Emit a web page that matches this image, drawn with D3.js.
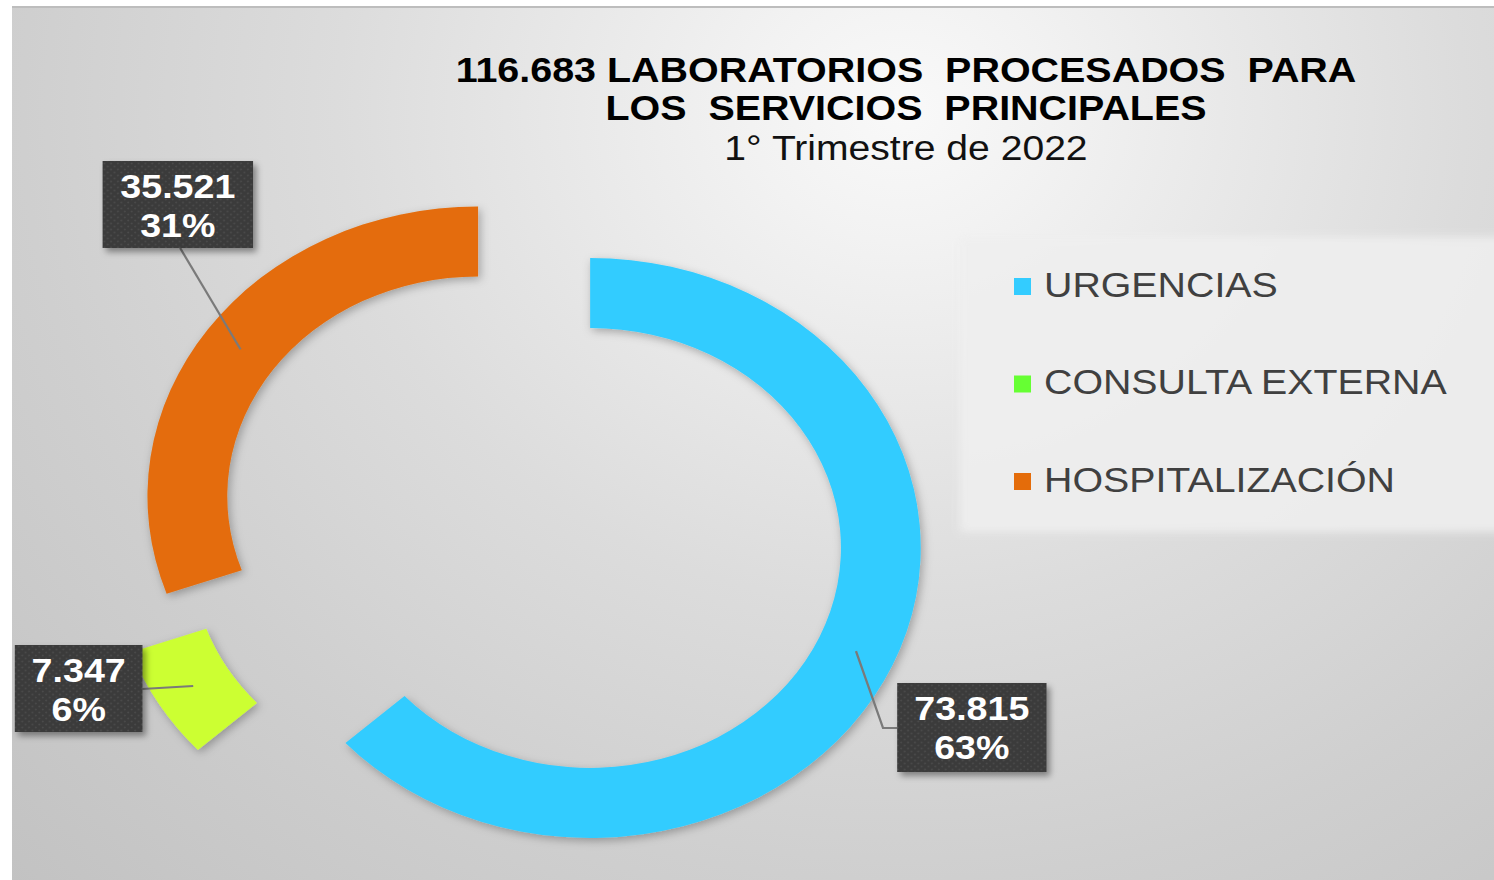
<!DOCTYPE html>
<html>
<head>
<meta charset="utf-8">
<script src="https://cdn.jsdelivr.net/npm/d3@7"></script>
<style>
  html, body { margin: 0; padding: 0; background: #ffffff; }
  svg { display: block; }
  text { font-family: "Liberation Sans", Arial, sans-serif; white-space: pre; }
</style>
</head>
<body>
<svg id="chart" width="1494" height="880"></svg>
<script>
// ---------- data ----------
const categories = ["URGENCIAS", "CONSULTA EXTERNA", "HOSPITALIZACIÓN"];
const values = [73815, 7347, 35521];
const titleLines = ["116.683 LABORATORIOS  PROCESADOS  PARA", "LOS  SERVICIOS  PRINCIPALES"];
const subtitle = "1° Trimestre de 2022";

// ---------- styles / layout ----------
const sliceColors = ["#33CCFF", "#CCFF33", "#E46C0A"];
const legendColors = ["#33CCFF", "#66FF33", "#E46C0A"];
const explode = [74, 72, 37.5];
const labelBoxes = [
  { x: 787, y: 683, w: 131, h: 89 },
  { x: 13, y: 645, w: 112, h: 87 },
  { x: 90, y: 161, w: 132, h: 87 }
];
const leaderTails = [
  [[774.6, 728], [787, 728]],
  [[124.6, 689]],
  [[158, 248]]
];

const VBW = 1494 / 1.14, VBH = 880;
const svg = d3.select("#chart")
  .attr("viewBox", `0 0 ${VBW} ${VBH}`)
  .attr("preserveAspectRatio", "none");

const defs = svg.append("defs");
const bg = defs.append("radialGradient").attr("id", "bg")
  .attr("gradientUnits", "userSpaceOnUse")
  .attr("cx", 790).attr("cy", 110).attr("r", 1100);
[[0, "#f9f9f9"], [0.12, "#f2f2f2"], [0.45, "#dcdcdc"], [0.7, "#cfcfcf"], [1, "#c2c2c2"]]
  .forEach(([o, c]) => bg.append("stop").attr("offset", o).attr("stop-color", c));

const sh = defs.append("filter").attr("id", "sliceShadow")
  .attr("x", "-30%").attr("y", "-30%").attr("width", "160%").attr("height", "160%");
sh.append("feDropShadow").attr("dx", 2).attr("dy", 3).attr("stdDeviation", 4)
  .attr("flood-color", "#000").attr("flood-opacity", 0.28);

const bsh = defs.append("filter").attr("id", "boxShadow")
  .attr("x", "-20%").attr("y", "-20%").attr("width", "150%").attr("height", "150%");
bsh.append("feDropShadow").attr("dx", 3).attr("dy", 4).attr("stdDeviation", 3)
  .attr("flood-color", "#000").attr("flood-opacity", 0.4);

const soft = defs.append("filter").attr("id", "soft")
  .attr("x", "-10%").attr("y", "-10%").attr("width", "120%").attr("height", "120%");
soft.append("feGaussianBlur").attr("stdDeviation", 4);

const pat = defs.append("pattern").attr("id", "dots")
  .attr("patternUnits", "userSpaceOnUse").attr("width", 6).attr("height", 6);
pat.append("rect").attr("width", 6).attr("height", 6).attr("fill", "#3a3a3a");
pat.append("circle").attr("cx", 1.5).attr("cy", 1.5).attr("r", 0.9).attr("fill", "#4b4b4b");
pat.append("circle").attr("cx", 4.5).attr("cy", 4.5).attr("r", 0.9).attr("fill", "#4b4b4b");

// ---------- background ----------
svg.append("rect").attr("x", 12 / 1.14).attr("y", 6)
  .attr("width", VBW - 12 / 1.14).attr("height", VBH - 6).attr("fill", "url(#bg)");
svg.append("line").attr("x1", 12 / 1.14).attr("x2", VBW).attr("y1", 7).attr("y2", 7)
  .attr("stroke", "#bdbdbd").attr("stroke-width", 2);

// legend panel
svg.append("rect").attr("x", 960 / 1.14).attr("y", 237)
  .attr("width", VBW - 960 / 1.14 + 10).attr("height", 295)
  .attr("fill", "#efefef").attr("opacity", 0.9).attr("filter", "url(#soft)");

// ---------- title ----------
const tcx = 906 / 1.14;
svg.append("text").attr("x", tcx).attr("y", 82).attr("text-anchor", "middle")
  .attr("font-size", 34.6).attr("font-weight", "bold").attr("fill", "#000").text(titleLines[0]);
svg.append("text").attr("x", tcx).attr("y", 120).attr("text-anchor", "middle")
  .attr("font-size", 34.6).attr("font-weight", "bold").attr("fill", "#000").text(titleLines[1]);
svg.append("text").attr("x", tcx).attr("y", 160).attr("text-anchor", "middle")
  .attr("font-size", 34.3).attr("fill", "#111").text(subtitle);

// ---------- donut ----------
const cx = 450, cy = 518, R = 290, r = 220;
const pie = d3.pie().sort(null).value(d => d);
const arcs = pie(values);
const arc = d3.arc().innerRadius(r).outerRadius(R);
const total = d3.sum(values);
const es = d3.formatLocale({ decimal: ",", thousands: ".", grouping: [3], currency: ["", ""] });
const fmtNum = es.format(",");

// whole-number percentages that add up to 100 (largest remainder)
const rawPct = values.map(v => v / total * 100);
const pct = rawPct.map(Math.floor);
let rest = 100 - d3.sum(pct);
d3.range(values.length)
  .sort((a, b) => (rawPct[b] - pct[b]) - (rawPct[a] - pct[a]))
  .slice(0, rest).forEach(i => pct[i] += 1);

function offset(d, i) {
  const m = (d.startAngle + d.endAngle) / 2;
  return [explode[i] * Math.sin(m), -explode[i] * Math.cos(m)];
}

const g = svg.append("g").attr("transform", `translate(${cx},${cy})`);
g.selectAll("path.slice").data(arcs).join("path")
  .attr("class", "slice")
  .attr("d", arc)
  .attr("fill", (d, i) => sliceColors[i])
  .attr("filter", "url(#sliceShadow)")
  .attr("transform", (d, i) => { const o = offset(d, i); return `translate(${o[0]},${o[1]})`; });

// ---------- leader lines ----------
arcs.forEach((d, i) => {
  const c = arc.centroid(d), o = offset(d, i);
  const pts = [[cx + c[0] + o[0], cy + c[1] + o[1]], ...leaderTails[i]];
  svg.append("path").attr("d", d3.line()(pts))
    .attr("fill", "none").attr("stroke", "#7a7a7a").attr("stroke-width", 2);
});

// ---------- data labels ----------
arcs.forEach((d, i) => {
  const b = labelBoxes[i];
  svg.append("rect").attr("x", b.x).attr("y", b.y).attr("width", b.w).attr("height", b.h)
    .attr("fill", "url(#dots)").attr("filter", "url(#boxShadow)");
  const tx = b.x + b.w / 2;
  svg.append("text").attr("x", tx).attr("y", b.y + 37).attr("text-anchor", "middle")
    .attr("font-size", 33).attr("font-weight", "bold").attr("fill", "#fff")
    .text(fmtNum(values[i]));
  svg.append("text").attr("x", tx).attr("y", b.y + 76).attr("text-anchor", "middle")
    .attr("font-size", 33).attr("font-weight", "bold").attr("fill", "#fff")
    .text(pct[i] + "%");
});

// ---------- legend ----------
const lg = svg.append("g");
categories.forEach((c, i) => {
  const by = 297 + i * 97.5;
  lg.append("rect").attr("x", 1014 / 1.14).attr("y", by - 19)
    .attr("width", 17 / 1.14).attr("height", 17).attr("fill", legendColors[i]);
  lg.append("text").attr("x", 1044 / 1.14).attr("y", by)
    .attr("font-size", 34.5).attr("fill", "#404040").text(c);
});
</script>
</body>
</html>
